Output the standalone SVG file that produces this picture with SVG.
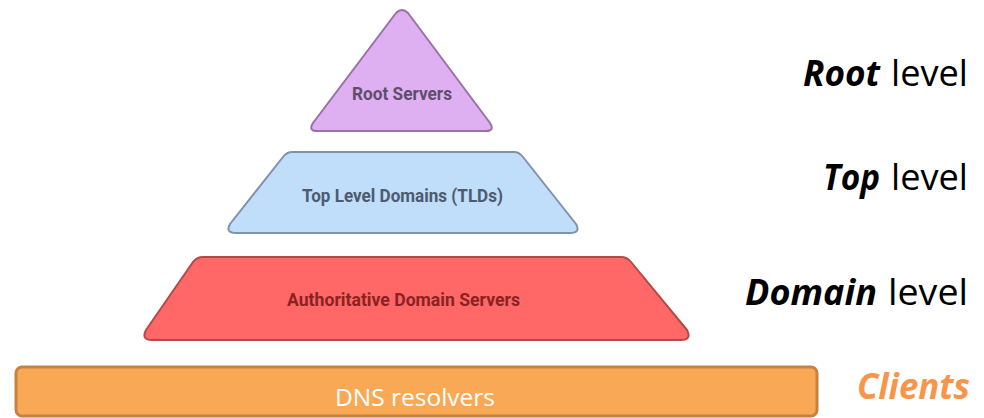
<svg xmlns="http://www.w3.org/2000/svg" width="984" height="418" viewBox="0 0 984 418">
<style>
.tier{stroke-width:2;stroke-linejoin:round}
.lbl{font-family:"Roboto","Liberation Sans",sans-serif;font-size:18px;font-weight:bold}
.lvl{font-family:"Open Sans","Liberation Sans",sans-serif;font-size:36px;fill:#000}
.b{font-weight:bold;font-style:italic}
</style>
<rect width="984" height="418" fill="#fff"/>
<g id="root">
<path class="tier" d="M396 13 Q402 7 408 13 L490 123 Q495 131 486 131 L317 131 Q308 131 313 123 Z" fill="#DEB0F2" stroke="#9A70A8"/>
<text class="lbl" x="352" y="100" textLength="100" lengthAdjust="spacingAndGlyphs" fill="#5E4E6C">Root Servers</text>
</g>
<g id="tld">
<path class="tier" d="M292 152 L514 152 Q519 152 523 157 L576 224 Q581 233 570 233 L236 233 Q225 233 230 224 L283 157 Q287 152 292 152 Z" fill="#C0DDF9" stroke="#7E92AE"/>
<text class="lbl" x="302" y="202" textLength="201" lengthAdjust="spacingAndGlyphs" fill="#4C5B70">Top Level Domains (TLDs)</text>
</g>
<g id="auth">
<path class="tier" d="M203 257 L621 257 Q627 257 631 262 L687 330 Q692 340 681 340 L152 340 Q141 340 146 330 L193 262 Q197 257 203 257 Z" fill="#FF6867" stroke="#B24A48"/>
<text class="lbl" x="287" y="306" textLength="233" lengthAdjust="spacingAndGlyphs" fill="#8A2222">Authoritative Domain Servers</text>
</g>
<g id="clients">
<rect x="16" y="367" width="801" height="49" rx="6" fill="#F9A855" stroke="#C78140" stroke-width="3"/>
<text x="335" y="406" font-family="'Open Sans','Liberation Sans',sans-serif" font-size="23" fill="#fff" textLength="160" lengthAdjust="spacingAndGlyphs">DNS resolvers</text>
</g>
<g id="levels">
<text class="lvl b" x="803" y="86" textLength="77" lengthAdjust="spacingAndGlyphs">Root</text>
<text class="lvl" x="891" y="86" textLength="77" lengthAdjust="spacingAndGlyphs">level</text>
<text class="lvl b" x="823" y="190" textLength="57" lengthAdjust="spacingAndGlyphs">Top</text>
<text class="lvl" x="891" y="190" textLength="77" lengthAdjust="spacingAndGlyphs">level</text>
<text class="lvl b" x="745" y="305" textLength="132" lengthAdjust="spacingAndGlyphs">Domain</text>
<text class="lvl" x="888" y="305" textLength="80" lengthAdjust="spacingAndGlyphs">level</text>
<text class="lvl b" x="857" y="399" textLength="113" lengthAdjust="spacingAndGlyphs" style="fill:#F7964A">Clients</text>
</g>
<g id="connectors"/>
</svg>
